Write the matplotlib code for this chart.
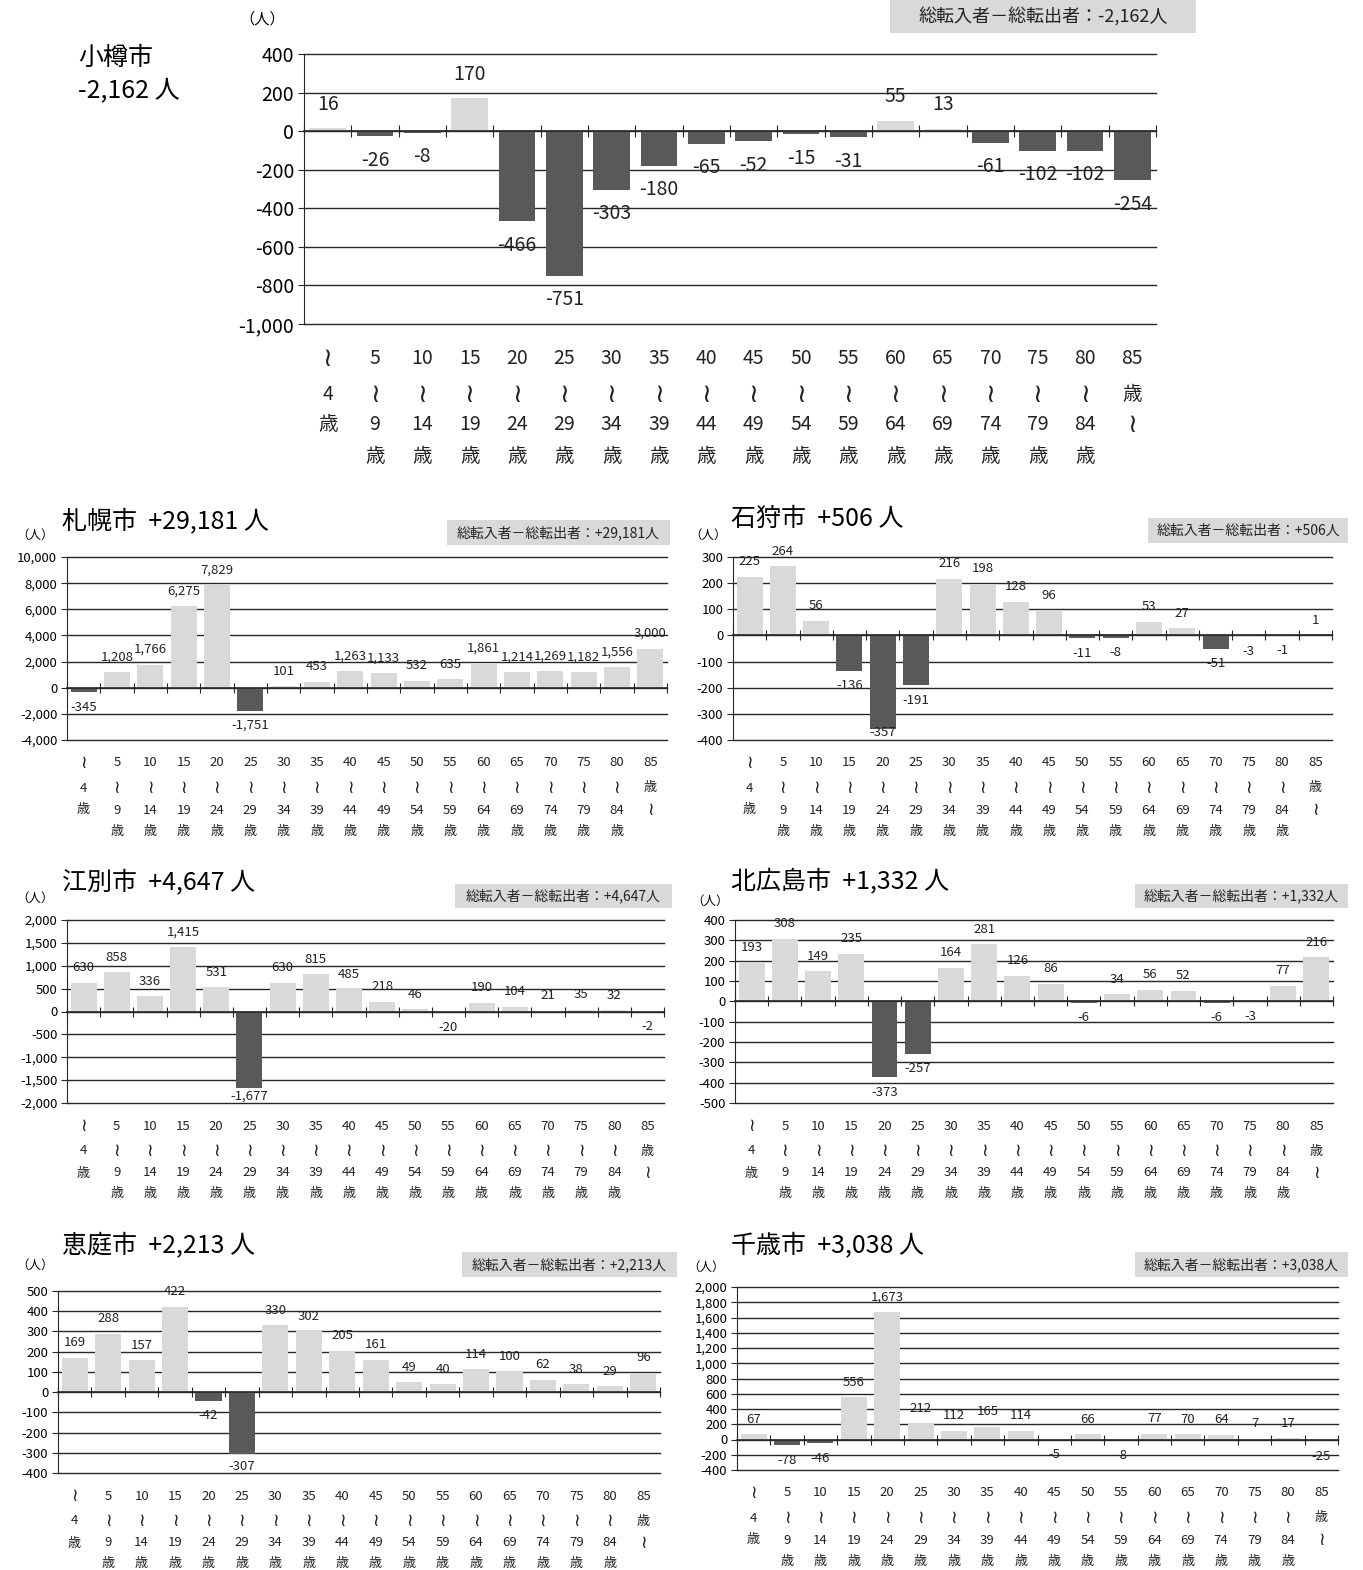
import re

import matplotlib.pyplot as plt
import numpy as np
from matplotlib.patches import Rectangle
from matplotlib.ticker import FuncFormatter

plt.rcParams["font.family"] = ["Noto Sans CJK JP", "DejaVu Sans"]

W, H = 1363, 1570

AGE_GROUPS = [
    "～4歳", "5～9歳", "10～14歳", "15～19歳", "20～24歳", "25～29歳",
    "30～34歳", "35～39歳", "40～44歳", "45～49歳", "50～54歳", "55～59歳",
    "60～64歳", "65～69歳", "70～74歳", "75～79歳", "80～84歳", "85歳～",
]

OTARU = [16, -26, -8, 170, -466, -751, -303, -180, -65, -52, -15, -31, 55, 13, -61, -102, -102, -254]
SAPPORO = [-345, 1208, 1766, 6275, 7829, -1751, 101, 453, 1263, 1133, 532, 635, 1861, 1214, 1269, 1182, 1556, 3000]
ISHIKARI = [225, 264, 56, -136, -357, -191, 216, 198, 128, 96, -11, -8, 53, 27, -51, -3, -1, 1]
EBETSU = [630, 858, 336, 1415, 531, -1677, 630, 815, 485, 218, 46, -20, 190, 104, 21, 35, 32, -2]
KITAHIROSHIMA = [193, 308, 149, 235, -373, -257, 164, 281, 126, 86, -6, 34, 56, 52, -6, -3, 77, 216]
ENIWA = [169, 288, 157, 422, -42, -307, 330, 302, 205, 161, 49, 40, 114, 100, 62, 38, 29, 96]
CHITOSE = [67, -78, -46, 556, 1673, 212, 112, 165, 114, -5, 66, -8, 77, 70, 64, 7, 17, -25]

POS_COLOR = "#d9d9d9"
NEG_COLOR = "#595959"
LINE_COLOR = "#262626"
BOX_COLOR = "#d9d9d9"


def px(v):
    """pixels -> points at dpi 100"""
    return v * 0.72


def fx(x):
    return x / W


def fy(y):
    return 1 - y / H


def rect(x0, y0, x1, y1):
    return [x0 / W, 1 - y1 / H, (x1 - x0) / W, (y1 - y0) / H]


def age_rows(label):
    parts = re.findall(r"\d+|～|歳", label)
    return ["≀" if p == "～" else p for p in parts]


def signed(v):
    return f"{v:+,}" if v > 0 else f"{v:,}"


def draw_panel(fig, box, values, ymin, ymax, ystep, big=False):
    tick_fs = 14 if big else 9.5
    lab_fs = 14 if big else 9.5
    x_fs = 14 if big else 9.5
    lab_off = 24 if big else 15
    rows = [35, 70, 101, 132] if big else [23, 48, 70, 91]

    ax = fig.add_axes(rect(*box))
    n = len(values)
    colors = [POS_COLOR if v >= 0 else NEG_COLOR for v in values]
    ax.bar(range(n), values, width=0.78, color=colors, zorder=2)
    ax.set_xlim(-0.5, n - 0.5)
    ax.set_ylim(ymin, ymax)
    ax.set_yticks(np.arange(ymin, ymax + ystep / 2, ystep))
    ax.yaxis.set_major_formatter(FuncFormatter(lambda v, _: f"{int(round(v)):,}"))
    ax.grid(axis="y", color=LINE_COLOR, lw=1.0, zorder=1)
    for gl in ax.get_ygridlines():
        gl.set_clip_on(False)
    ax.set_axisbelow(True)

    for side in ("top", "right"):
        ax.spines[side].set_visible(False)
    ax.spines["left"].set_color(LINE_COLOR)
    ax.spines["bottom"].set_position(("data", 0))
    ax.spines["bottom"].set_color(LINE_COLOR)
    ax.spines["bottom"].set_linewidth(1.2)

    ax.set_xticks([i - 0.5 for i in range(n + 1)])
    ax.set_xticklabels([])
    ax.tick_params(axis="x", direction="inout", length=9 if big else 7, color=LINE_COLOR)
    ax.tick_params(axis="y", length=4, color=LINE_COLOR, labelsize=tick_fs, pad=3)
    ax.patch.set_alpha(0)

    # data units per pixel, used to keep labels inside the plot area
    per_px = (ymax - ymin) / (box[3] - box[1])
    floor = ymin + 7 * per_px
    for i, v in enumerate(values):
        if v >= 0:
            y = v + lab_off * per_px
        else:
            y = max(v - lab_off * per_px, floor)
        ax.text(i, y, f"{v:,}", ha="center", va="center",
                fontsize=lab_fs, color="#222222", zorder=4)

    for i, lbl in enumerate(AGE_GROUPS):
        for r, tok in enumerate(age_rows(lbl)):
            fs = x_fs * 1.35 if tok == "≀" else x_fs
            ax.annotate(tok, (i, 0), xycoords=ax.get_xaxis_transform(),
                        xytext=(0, -px(rows[r])), textcoords="offset points",
                        ha="center", va="center", fontsize=fs, color="#222222",
                        annotation_clip=False)
    return ax


def summary_box(fig, box, total, fs):
    x0, y0, x1, y1 = box
    fig.add_artist(Rectangle((fx(x0), fy(y1)), (x1 - x0) / W, (y1 - y0) / H,
                             transform=fig.transFigure, facecolor=BOX_COLOR,
                             edgecolor="none"))
    fig.text(fx((x0 + x1) / 2), fy((y0 + y1) / 2), f"総転入者－総転出者：{signed(total)}人",
             ha="center", va="center", fontsize=fs, color="#222222")


fig = plt.figure(figsize=(W / 100, H / 100), dpi=100)

# 小樽市 (main panel)
draw_panel(fig, (304, 54, 1156, 324), OTARU, -1000, 400, 200, big=True)
fig.text(fx(78), fy(58), "小樽市", fontsize=18, ha="left", va="center")
fig.text(fx(78), fy(90), f"{sum(OTARU):,} 人", fontsize=18, ha="left", va="center")
fig.text(fx(262), fy(19), "（人）", fontsize=11, ha="center", va="center")
summary_box(fig, (890, 0, 1196, 33), sum(OTARU), 13)

panels = [
    ("札幌市", SAPPORO, (67, 557, 667, 740), (-4000, 10000, 2000), (62, 521), (35, 535), (447, 520, 670, 545)),
    ("石狩市", ISHIKARI, (733, 557, 1332, 740), (-400, 300, 100), (731, 519), (708, 535), (1148, 518, 1348, 543)),
    ("江別市", EBETSU, (67, 920, 664, 1103), (-2000, 2000, 500), (62, 882), (35, 898), (455, 884, 672, 908)),
    ("北広島市", KITAHIROSHIMA, (735, 920, 1333, 1103), (-500, 400, 100), (731, 882), (710, 901), (1135, 884, 1348, 908)),
    ("恵庭市", ENIWA, (58, 1291, 660, 1473), (-400, 500, 100), (62, 1245), (35, 1265), (462, 1252, 677, 1277)),
    ("千歳市", CHITOSE, (737, 1287, 1338, 1470), (-400, 2000, 200), (731, 1245), (706, 1267), (1135, 1252, 1348, 1277)),
]

for name, vals, box, (lo, hi, step), tpos, upos, sbox in panels:
    draw_panel(fig, box, vals, lo, hi, step)
    total = sum(vals)
    fig.text(fx(tpos[0]), fy(tpos[1]), f"{name}  {signed(total)} 人", fontsize=18,
             ha="left", va="center")
    fig.text(fx(upos[0]), fy(upos[1]), "（人）", fontsize=9, ha="center", va="center")
    summary_box(fig, sbox, total, 10)

fig.savefig("out.png", dpi=100)
